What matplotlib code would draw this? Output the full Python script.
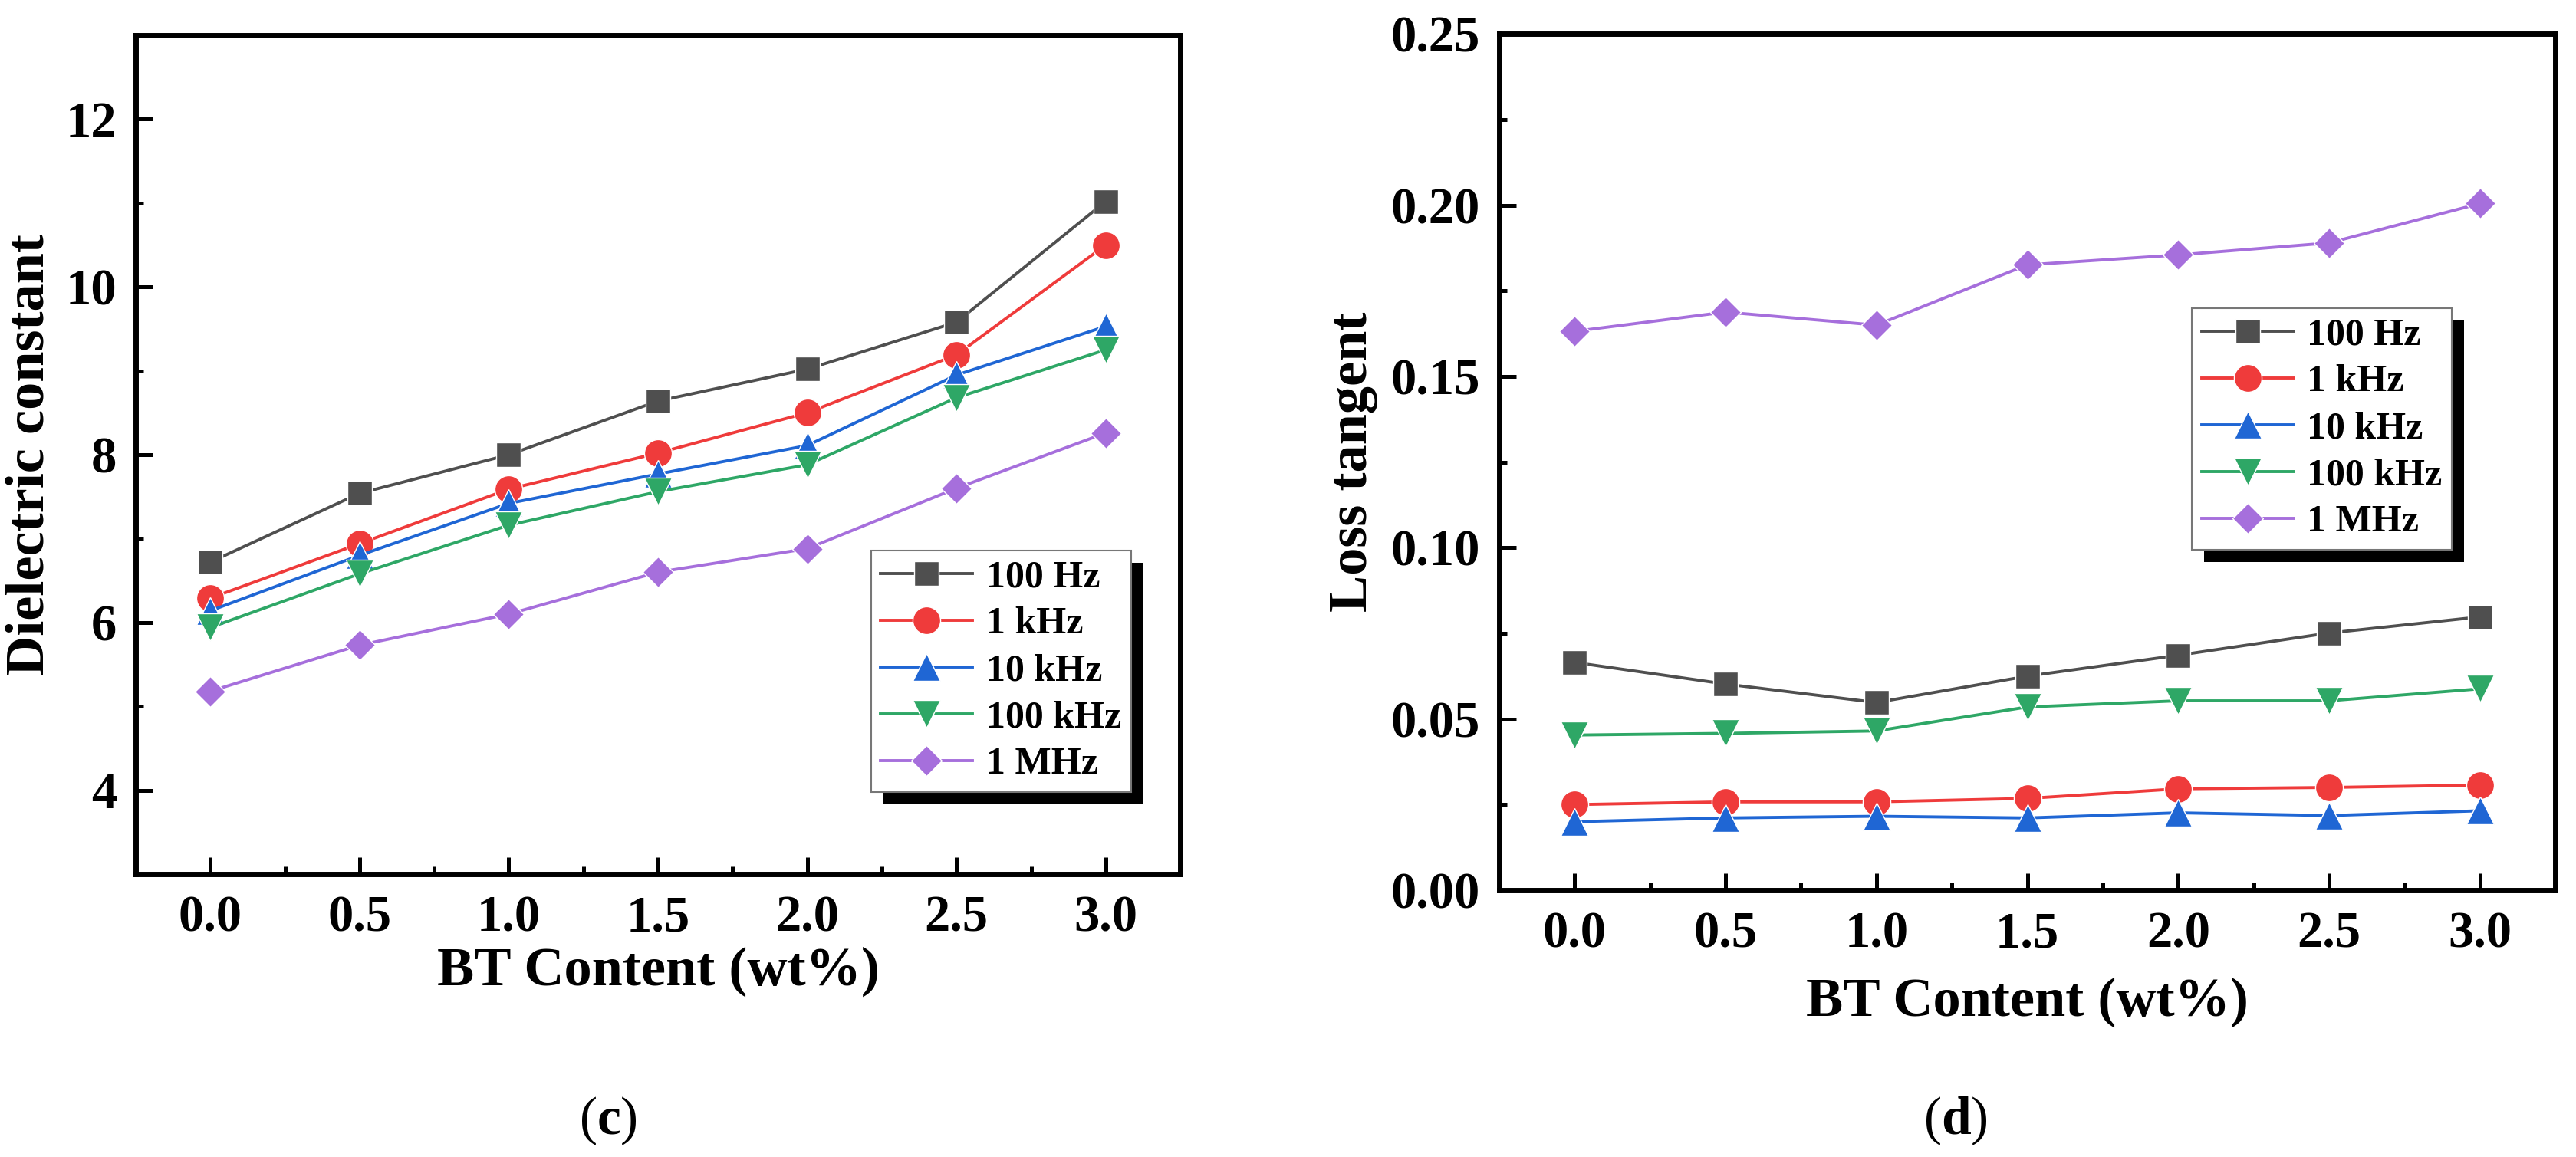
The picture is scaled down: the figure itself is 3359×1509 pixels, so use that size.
import matplotlib
matplotlib.use('Agg')
import matplotlib.pyplot as plt
from matplotlib.patches import Rectangle
from matplotlib.ticker import MultipleLocator
from matplotlib.transforms import IdentityTransform

plt.rcParams['font.family'] = ['Liberation Serif', 'DejaVu Serif']
plt.rcParams['font.weight'] = 'bold'
plt.rcParams['axes.labelweight'] = 'bold'
plt.rcParams['mathtext.fontset'] = 'custom'
plt.rcParams['mathtext.rm'] = 'Liberation Serif'
plt.rcParams['mathtext.bf'] = 'Liberation Serif:bold'

bt = [0.0, 0.5, 1.0, 1.5, 2.0, 2.5, 3.0]
freqs = ['100 Hz', '1 kHz', '10 kHz', '100 kHz', '1 MHz']

eps_100hz = [6.72, 7.54, 8.00, 8.64, 9.02, 9.58, 11.02]
eps_1khz = [6.29, 6.94, 7.59, 8.02, 8.50, 9.19, 10.50]
eps_10khz = [6.14, 6.80, 7.42, 7.77, 8.11, 8.95, 9.53]
eps_100khz = [5.94, 6.58, 7.16, 7.56, 7.88, 8.68, 9.25]
eps_1mhz = [5.18, 5.73, 6.10, 6.60, 6.88, 7.60, 8.26]

tan_100hz = [0.0665, 0.0602, 0.0548, 0.0625, 0.0686, 0.0751, 0.0798]
tan_1khz = [0.0250, 0.0258, 0.0258, 0.0268, 0.0296, 0.0300, 0.0307]
tan_10khz = [0.0200, 0.0211, 0.0216, 0.0211, 0.0226, 0.0218, 0.0232]
tan_100khz = [0.0453, 0.0458, 0.0465, 0.0535, 0.0553, 0.0553, 0.0588]
tan_1mhz = [0.1632, 0.1688, 0.1650, 0.1826, 0.1855, 0.1890, 0.2005]

colors = ['#4f4f4f', '#ef3b3b', '#1f66d4', '#2ea766', '#a66fdc']
markers = ['s', 'o', '^', 'v', 'D']
msizes = [23, 26, 26, 26, 20]

DPI = 100
fig = plt.figure(figsize=(3359 / DPI, 1509 / DPI), dpi=DPI)
ax1 = fig.add_axes([0.0527, 0.2445, 0.4055, 0.725])
ax2 = fig.add_axes([0.582, 0.2306, 0.410, 0.740])


def style(ax, lpad):
    for sp in ax.spines.values():
        sp.set_linewidth(5)
    ax.tick_params(which='both', direction='in', width=3.6, top=False, right=False,
                   labelsize=48, pad=18)
    ax.tick_params(axis='x', pad=20)
    ax.tick_params(which='major', length=16)
    ax.tick_params(which='minor', length=7)
    ax.set_xlim(-0.25, 3.25)
    ax.xaxis.set_major_locator(MultipleLocator(0.5))
    ax.xaxis.set_minor_locator(MultipleLocator(0.25))
    ax.xaxis.set_major_formatter('{x:.1f}')
    ax.set_xlabel('BT Content (wt%)', fontsize=52, labelpad=lpad)


def add_legend(ax, anchor):
    leg = ax.legend(loc='upper left', bbox_to_anchor=anchor, fontsize=36,
                    handlelength=2.4, handletextpad=0.35, labelspacing=0.3,
                    borderpad=0.25, borderaxespad=0, fancybox=False,
                    edgecolor='#777777', framealpha=1)
    leg.get_frame().set_linewidth(1.5)
    return leg


for ys, c, m, ms, lab in zip([eps_100hz, eps_1khz, eps_10khz, eps_100khz, eps_1mhz],
                             colors, markers, msizes, freqs):
    ax1.plot(bt, ys, color=c, marker=m, ms=ms, lw=2.8, mec='white', mew=1, label=lab)
style(ax1, 4)
ax1.set_ylim(3, 13)
ax1.yaxis.set_major_locator(MultipleLocator(2))
ax1.yaxis.set_minor_locator(MultipleLocator(1))
ax1.set_ylabel('Dielectric constant', fontsize=52, labelpad=10)
leg1 = add_legend(ax1, (0.704, 0.386))

for ys, c, m, ms, lab in zip([tan_100hz, tan_1khz, tan_10khz, tan_100khz, tan_1mhz],
                             colors, markers, msizes, freqs):
    ax2.plot(bt, ys, color=c, marker=m, ms=ms, lw=2.8, mec='white', mew=1, label=lab)
style(ax2, 18)
ax2.set_ylim(0, 0.25)
ax2.yaxis.set_major_locator(MultipleLocator(0.05))
ax2.yaxis.set_minor_locator(MultipleLocator(0.025))
ax2.yaxis.set_major_formatter('{x:.2f}')
ax2.set_ylabel('Loss tangent', fontsize=52, labelpad=12)
leg2 = add_legend(ax2, (0.656, 0.680))

fig.text(0.236, 0.031, r'($\mathbf{c}$)', fontsize=50, fontweight='normal',
         ha='center', va='center')
fig.text(0.759, 0.031, r'($\mathbf{d}$)', fontsize=50, fontweight='normal',
         ha='center', va='center')

# black drop shadow behind each legend box
fig.canvas.draw()
for ax, leg in [(ax1, leg1), (ax2, leg2)]:
    bb = leg.get_frame().get_window_extent()
    sh = Rectangle((bb.x0 + 16, bb.y0 - 16), bb.width, bb.height, transform=IdentityTransform(),
                   facecolor='black', edgecolor='none', zorder=4.9, clip_on=False)
    ax.add_artist(sh)

fig.savefig('out.png', dpi=DPI)
